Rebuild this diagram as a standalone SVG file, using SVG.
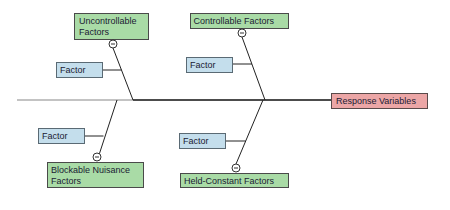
<svg xmlns="http://www.w3.org/2000/svg" width="450" height="210" viewBox="0 0 450 210">
<style>
text{font-family:"Liberation Sans",Arial,sans-serif;font-size:9px;fill:#1a1a33}
.cat rect{fill:#a9dba6;stroke:#4a4a4a;stroke-width:1}
.fac rect{fill:#c4deec;stroke:#5a6a74;stroke-width:1}
.resp rect{fill:#eca6a6;stroke:#5a4a4a;stroke-width:1}
.ln{stroke:#222;stroke-width:1;fill:none}
.col circle{fill:#fff;stroke:#333;stroke-width:1}
.col line{stroke:#333;stroke-width:1}
</style>
<rect width="450" height="210" fill="#fff"/>
<g id="connectors">
<line x1="17" y1="100" x2="133" y2="100" stroke="#888" stroke-width="1.2"/>
<line x1="133" y1="100" x2="331" y2="100" stroke="#111" stroke-width="1.6"/>
<line class="ln" x1="113" y1="48" x2="133" y2="100"/>
<line class="ln" x1="97" y1="161" x2="117" y2="100"/>
<line class="ln" x1="242" y1="37" x2="265" y2="100"/>
<line class="ln" x1="236" y1="164" x2="263" y2="100"/>
<line class="ln" x1="102" y1="70" x2="121.5" y2="70"/>
<line class="ln" x1="232" y1="64" x2="252" y2="64"/>
<line class="ln" x1="84" y1="136" x2="103.5" y2="136"/>
<line class="ln" x1="225" y1="141" x2="245.7" y2="141"/>
</g>
<g id="uncontrollable" class="cat">
<rect x="74.5" y="13.5" width="74" height="26"/>
<text x="79" y="24">Uncontrollable</text>
<text x="79" y="35">Factors</text>
</g>
<g class="col"><circle cx="113" cy="44" r="4"/><line x1="111" y1="44" x2="115" y2="44"/></g>
<g id="controllable" class="cat">
<rect x="190.5" y="13.5" width="98" height="15"/>
<text x="193.5" y="24">Controllable Factors</text>
</g>
<g class="col"><circle cx="242" cy="33" r="4"/><line x1="240" y1="33" x2="244" y2="33"/></g>
<g id="blockable" class="cat">
<rect x="47.5" y="162.5" width="96" height="25"/>
<text x="51" y="173">Blockable Nuisance</text>
<text x="51" y="184">Factors</text>
</g>
<g class="col"><circle cx="97" cy="157" r="4"/><line x1="95" y1="157" x2="99" y2="157"/></g>
<g id="held" class="cat">
<rect x="180.5" y="173.5" width="108" height="14"/>
<text x="184" y="184">Held-Constant Factors</text>
</g>
<g class="col"><circle cx="236" cy="168" r="4"/><line x1="234" y1="168" x2="238" y2="168"/></g>
<g id="factor1" class="fac"><rect x="56.5" y="62.5" width="46" height="15"/><text x="60" y="73">Factor</text></g>
<g id="factor2" class="fac"><rect x="186.5" y="57.5" width="46" height="15"/><text x="190" y="68">Factor</text></g>
<g id="factor3" class="fac"><rect x="38.5" y="128.5" width="46" height="15"/><text x="42" y="139">Factor</text></g>
<g id="factor4" class="fac"><rect x="179.5" y="133.5" width="46" height="15"/><text x="183" y="144">Factor</text></g>
<g id="response" class="resp">
<rect x="331.5" y="93.5" width="96" height="15"/>
<text x="336" y="104">Response Variables</text>
</g>
</svg>
